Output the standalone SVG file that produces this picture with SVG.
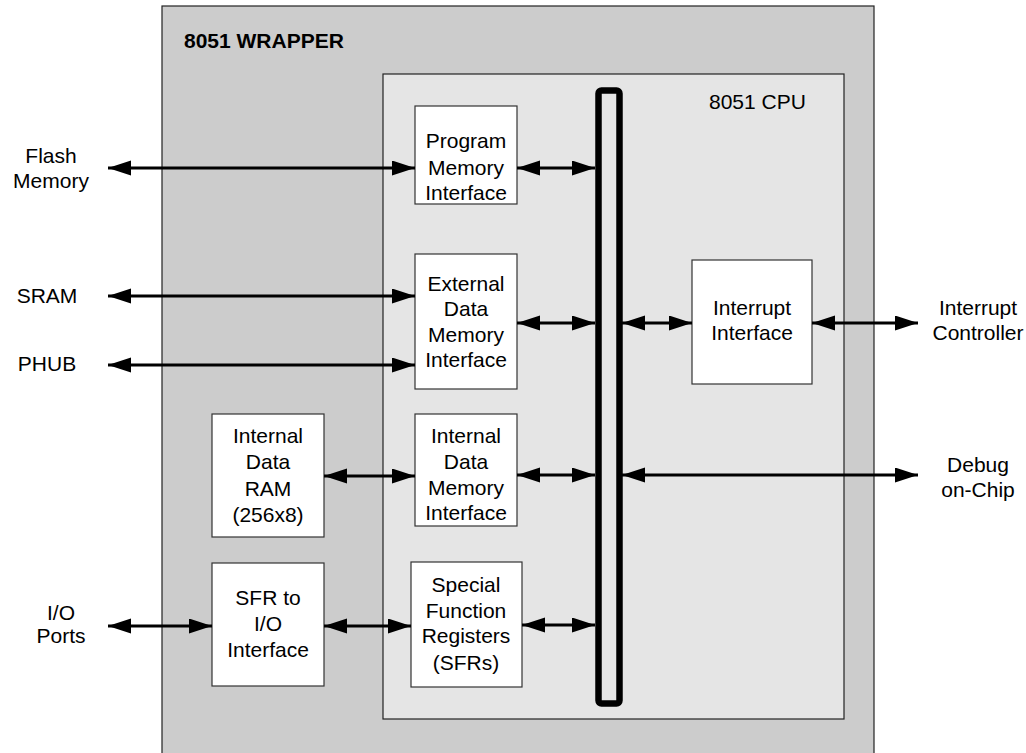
<svg xmlns="http://www.w3.org/2000/svg" width="1026" height="753" viewBox="0 0 1026 753">
<style>
text{font-family:"Liberation Sans",Arial,sans-serif;font-size:21px;fill:#000;}
.c{text-anchor:middle;}
.b{font-weight:bold;}
.box{fill:#fff;stroke:#333;stroke-width:1.2;}
.conn line{stroke:#000;stroke-width:3;marker-start:url(#ah);marker-end:url(#ah);}
</style>
<defs>
<marker id="ah" markerUnits="userSpaceOnUse" markerWidth="24" markerHeight="16" refX="23" refY="7.5" orient="auto-start-reverse" viewBox="0 0 24 16">
<path d="M0,0 L23,7.5 L0,15 z" fill="#000"/>
</marker>
</defs>
<rect width="1026" height="753" fill="#fff"/>
<g id="wrapper">
<rect x="162" y="6" width="712" height="760" fill="#cccccc" stroke="#222" stroke-width="1.2"/>
<text x="184" y="48" class="b">8051 WRAPPER</text>
</g>
<g id="cpu">
<rect x="383" y="74" width="461" height="645" fill="#e5e5e5" stroke="#222" stroke-width="1.2"/>
<text x="709" y="109">8051 CPU</text>
</g>
<g id="bus">
<rect x="598.5" y="90.5" width="21" height="613" rx="3" fill="#e5e5e5" stroke="#000" stroke-width="6.5"/>
</g>
<g id="pmi">
<rect class="box" x="415" y="106" width="102" height="98"/>
<text class="c" x="466" y="148">Program</text>
<text class="c" x="466" y="175">Memory</text>
<text class="c" x="466" y="200">Interface</text>
</g>
<g id="edmi">
<rect class="box" x="415" y="254" width="102" height="135"/>
<text class="c" x="466" y="291">External</text>
<text class="c" x="466" y="316">Data</text>
<text class="c" x="466" y="342">Memory</text>
<text class="c" x="466" y="367">Interface</text>
</g>
<g id="idmi">
<rect class="box" x="415" y="414" width="102" height="112"/>
<text class="c" x="466" y="443">Internal</text>
<text class="c" x="466" y="469">Data</text>
<text class="c" x="466" y="495">Memory</text>
<text class="c" x="466" y="520">Interface</text>
</g>
<g id="sfr">
<rect class="box" x="411" y="562" width="111" height="125"/>
<text class="c" x="466" y="592">Special</text>
<text class="c" x="466" y="618">Function</text>
<text class="c" x="466" y="643">Registers</text>
<text class="c" x="466" y="670">(SFRs)</text>
</g>
<g id="iram">
<rect class="box" x="212" y="414" width="112" height="123"/>
<text class="c" x="268" y="443">Internal</text>
<text class="c" x="268" y="469">Data</text>
<text class="c" x="268" y="496">RAM</text>
<text class="c" x="268" y="522">(256x8)</text>
</g>
<g id="sfrio">
<rect class="box" x="212" y="563" width="112" height="123"/>
<text class="c" x="268" y="605">SFR to</text>
<text class="c" x="268" y="631">I/O</text>
<text class="c" x="268" y="657">Interface</text>
</g>
<g id="intif">
<rect class="box" x="692" y="260" width="120" height="124"/>
<text class="c" x="752" y="315">Interrupt</text>
<text class="c" x="752" y="340">Interface</text>
</g>
<g id="flash"><text class="c" x="51" y="163">Flash</text><text class="c" x="51" y="188">Memory</text></g>
<g id="sram"><text class="c" x="47" y="303">SRAM</text></g>
<g id="phub"><text class="c" x="47" y="371">PHUB</text></g>
<g id="io"><text class="c" x="61" y="620">I/O</text><text class="c" x="61" y="643">Ports</text></g>
<g id="intctl"><text class="c" x="978" y="315">Interrupt</text><text class="c" x="978" y="340">Controller</text></g>
<g id="debug"><text class="c" x="978" y="472">Debug</text><text class="c" x="978" y="497">on-Chip</text></g>
<g class="conn" id="connectors">
<line x1="108" y1="168" x2="415" y2="168"/>
<line x1="108" y1="296" x2="415" y2="296"/>
<line x1="108" y1="365" x2="415" y2="365"/>
<line x1="324" y1="476" x2="415" y2="476"/>
<line x1="108" y1="626" x2="212" y2="626"/>
<line x1="324" y1="626" x2="411" y2="626"/>
<line x1="517" y1="168" x2="595" y2="168"/>
<line x1="517" y1="323" x2="595" y2="323"/>
<line x1="517" y1="475" x2="595" y2="475"/>
<line x1="522" y1="625" x2="595" y2="625"/>
<line x1="622" y1="323" x2="692" y2="323"/>
<line x1="812" y1="323" x2="918" y2="323"/>
<line x1="622" y1="475" x2="918" y2="475"/>
</g>
</svg>
